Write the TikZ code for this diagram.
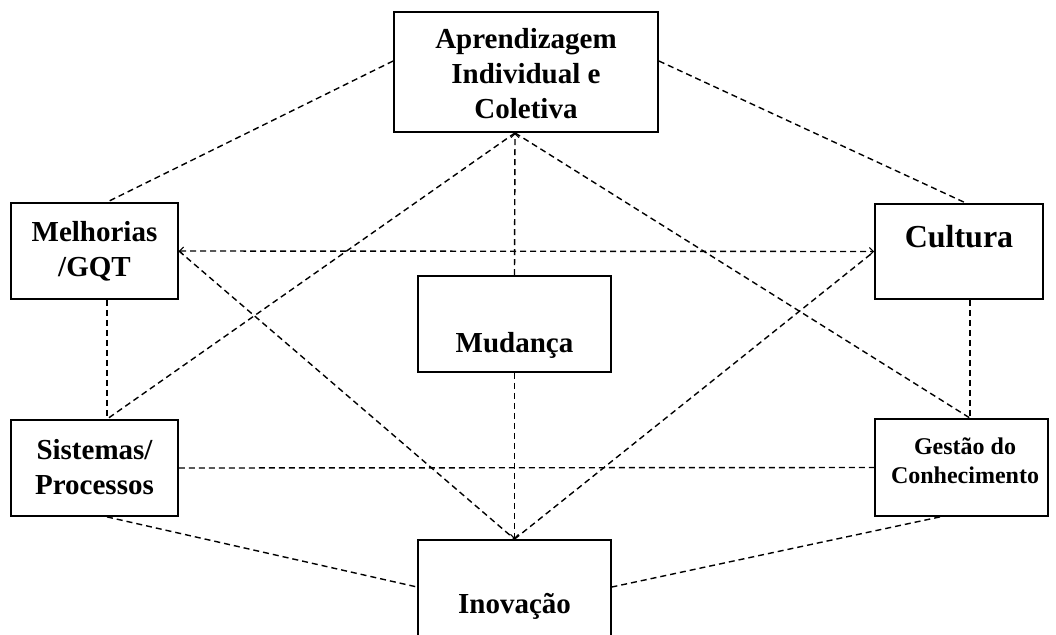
\documentclass[tikz,border=0pt]{standalone}
\usepackage{fontspec}
\setmainfont{Liberation Serif}
\usetikzlibrary{arrows.meta}
\begin{document}
\begin{tikzpicture}[x=1pt,y=-1pt,
  box/.style={draw, line width=1.8pt, inner sep=0pt},
  lbl/.style={font=\bfseries\fontsize{29}{35}\selectfont, align=center, inner sep=0pt},
  link/.style={line width=1.4pt, dash pattern=on 6pt off 4pt},
  tip/.style={-{Straight Barb[length=4pt,width=8pt,line width=1pt]}},
  tips/.style={{Straight Barb[length=4pt,width=8pt,line width=1pt]}-{Straight Barb[length=4pt,width=8pt,line width=1pt]}}
]
\clip (0,0) rectangle (1056,634);
\fill[white] (0,0) rectangle (1056,634);

% boxes
\node[box, minimum width=264pt, minimum height=120pt] (apr) at (526,72) {};
\node[box, minimum width=167pt, minimum height=96pt] (mel) at (94.5,251) {};
\node[box, minimum width=168pt, minimum height=95pt] (cul) at (959,251.5) {};
\node[box, minimum width=193pt, minimum height=96pt] (mud) at (514.5,324) {};
\node[box, minimum width=167pt, minimum height=96pt] (sis) at (94.5,468) {};
\node[box, minimum width=173pt, minimum height=97pt] (ges) at (961.5,467.5) {};
\node[box, minimum width=193pt, minimum height=120pt] (ino) at (514.5,600) {};

% labels
\node[lbl] (tapr) at (526,74) {Aprendizagem\\Individual e\\Coletiva};
\node[lbl] (tmel) at (94.5,251) {Melhorias\\/GQT};
\node[lbl, font=\bfseries\fontsize{32}{38}\selectfont] (tcul) at (959,237) {Cultura};
\node[lbl] (tmud) at (514.5,345) {Mudança};
\node[lbl] (tsis) at (94.5,467) {Sistemas/\\Processos};
\node[lbl, font=\bfseries\fontsize{24}{29}\selectfont] (tges) at (965,461) {Gestão do\\Conhecimento};
\node[lbl] (tino) at (514.5,606) {Inovação};

% attachment points
\coordinate (a1) at ([xshift=-11pt]apr.south);
\coordinate (melT) at ([xshift=12.5pt]mel.north);
\coordinate (melB) at ([xshift=12.5pt]mel.south);
\coordinate (sisT) at ([xshift=12.5pt]sis.north);
\coordinate (sisB) at ([xshift=12.5pt]sis.south);
\coordinate (culT) at ([xshift=7pt]cul.north);
\coordinate (culB) at ([xshift=11pt]cul.south);
\coordinate (gesT) at ([xshift=8.5pt]ges.north);
\coordinate (gesB) at ([xshift=-21.5pt]ges.south);

% connectors
\draw[link] ([yshift=11pt]apr.west) -- (melT);
\draw[link] ([yshift=11pt]apr.east) -- (culT);
\draw[link, tip] (mud.north) -- (a1);
\draw[link] (a1) -- (sisT);
\draw[link] (a1) -- (gesT);
\draw[link, tips] (mel.east) -- (cul.west);
\draw[link] (mel.east) -- (ino.north);
\draw[link] (ino.north) -- (cul.west);
\draw[link] (melB) -- (sisT);
\draw[link] (culB) -- (gesT);
\draw[link, tip] (mud.south) -- (ino.north);
\draw[link] (sis.east) -- (ges.west);
\draw[link] (sisB) -- ([yshift=13pt]ino.west);
\draw[link] (gesB) -- ([yshift=13pt]ino.east);
\end{tikzpicture}
\end{document}
